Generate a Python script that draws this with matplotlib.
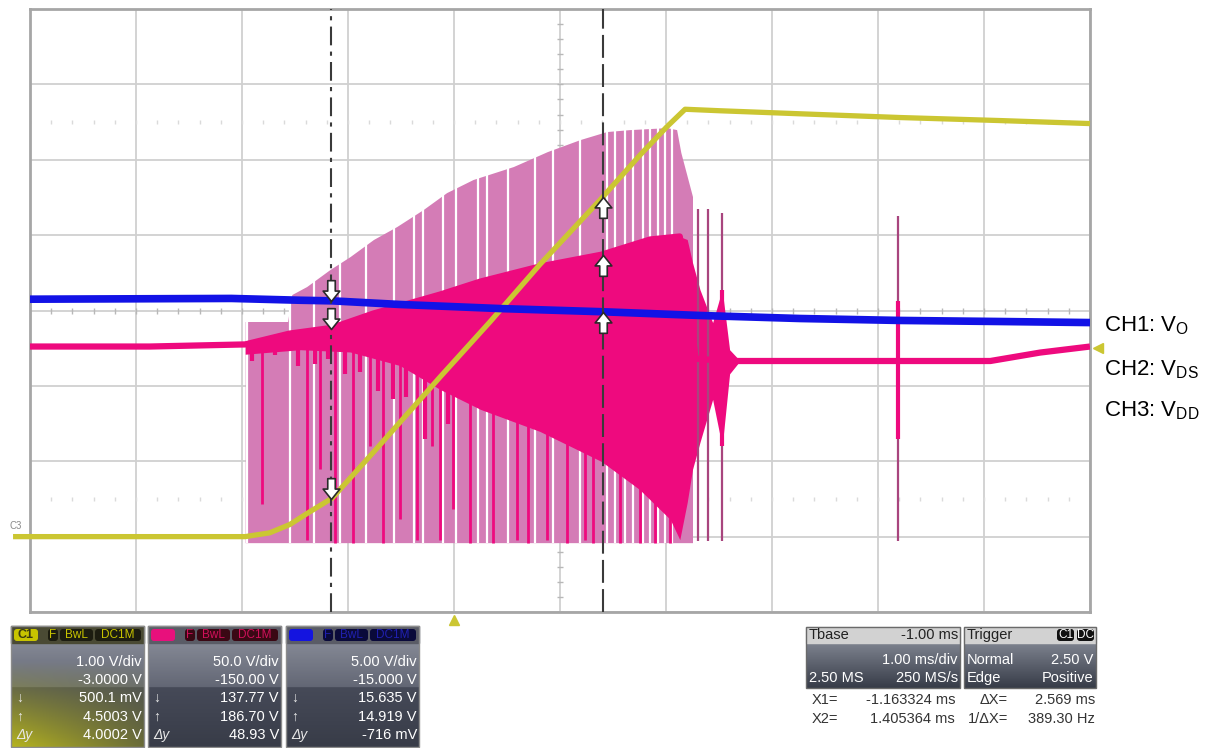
import numpy as np
import matplotlib.pyplot as plt
from matplotlib.path import Path
from matplotlib.patches import Rectangle, FancyBboxPatch

plt.rcParams['font.family'] = ['Liberation Sans', 'DejaVu Sans']
plt.rcParams['mathtext.default'] = 'regular'

W, H = 1223, 748

# scope setup
ch_vdiv = [1.0, 50.0, 5.0]          # C1, C2, C3
ch_offset = [-3.0, -150.0, -15.0]
trig_level = 2.50                   # on C1
x1_ms = -1.163324
x2_ms = 1.405364

# C1 (yellow), ms / V
c1_t = [-4.16, -1.97, -1.74, -1.55, -1.36, -1.15, -0.76, -0.13, 0.34, 0.81,
        1.38, 1.76, 2.01, 2.18, 2.51, 3.26, 4.21, 5.15, 6.0]
c1_v = [0.0, 0.0, 0.05, 0.16, 0.33, 0.51, 1.12, 2.12, 2.85, 3.61,
        4.47, 5.07, 5.44, 5.67, 5.65, 5.61, 5.56, 5.52, 5.48]

# C3 (blue)
c3_t = [-4.0, -2.1, -1.45, -1.15, -0.51, 0.43, 1.39, 2.32, 3.26, 4.21, 5.15, 6.0]
c3_v = [15.75, 15.80, 15.68, 15.64, 15.40, 15.13, 14.92, 14.67, 14.47, 14.34, 14.27, 14.20]

# C2 (pink) mean trace
c2_t = [-4.0, -2.87, -1.97, -1.55, -1.15, -0.76, -0.13, 0.25, 0.81, 1.39,
        1.85, 2.13, 2.20, 2.28, 2.60, 5.06, 5.53, 6.0]
c2_v = [126.1, 126.1, 127.5, 134.7, 138.5, 148.0, 160.6, 169.2, 179.2, 187.0,
        197.1, 199.1, 160.0, 118.0, 116.5, 116.5, 122.1, 126.1]

# C2 switching envelope (persistence)
env_t = [-1.97, -1.57, -1.53, -1.39, -1.17, -0.98, -0.76, -0.54, -0.29, -0.07,
         0.18, 0.56, 0.88, 1.19, 1.44, 1.66, 2.01, 2.10, 2.14, 2.20, 2.25]
env_hi = [142.7, 142.7, 160.6, 165.9, 177.2, 185.8, 197.1, 205.7, 217.0, 228.2,
          236.9, 245.5, 255.4, 263.4, 268.7, 270.0, 271.3, 270.0, 254.8, 238.9, 225.6]
env_floor = -4.0

# dense C2 band
dark_t = [-1.97, -1.45, -0.98, -0.51, -0.13, 0.25, 0.81, 1.39, 1.75, 2.04,
          2.13, 2.20, 2.25, 2.32, 2.44, 2.53, 2.60, 2.68]
dark_hi = [128.5, 136.0, 142.5, 152.0, 160.6, 169.2, 179.2, 189.0, 196.0, 199.0,
           199.0, 197.1, 181.8, 163.9, 142.0, 163.9, 124.0, 118.0]
dark_lo = [121.0, 124.0, 122.5, 113.5, 97.6, 84.4, 69.8, 49.9, 31.3, 11.4,
           -2.0, 22.7, 44.6, 62.5, 91.0, 59.8, 108.0, 115.0]

# gaps between switching bursts
gap_t = [-1.95, -1.55, -1.32, -1.08, -0.83, -0.57, -0.38, -0.29, -0.10, 0.02,
         0.23, 0.31, 0.51, 0.76, 0.93, 1.19, 1.44, 1.52, 1.61, 1.69, 1.78,
         1.85, 1.92, 1.99, 2.06]

# deep switching spikes
spk_t = [-1.81, -1.39, -1.26, -1.12, -0.95, -0.79, -0.67, -0.51, -0.35, -0.21,
         -0.13, -0.01, 0.15, 0.37, 0.59, 0.70, 0.88, 1.07, 1.24, 1.31, 1.57,
         1.75, 1.90, 2.04]
spk_lo = [21.4, -2.0, 44.6, -4.0, -4.0, 60.0, -4.0, 11.4, -2.0, 60.0,
          -2.0, 18.0, -4.0, -4.0, -2.0, -4.0, -2.0, -4.0, -2.0, -4.0, -4.0,
          -4.0, -4.0, -4.0]

# short teeth on the C2 band
tooth_t = [-1.91, -1.69, -1.47, -1.31, -1.19, -1.03, -0.89, -0.72, -0.58, -0.45, -0.27, -0.06]
tooth_lo = [116.2, 120.8, 113.5, 114.2, 117.5, 108.2, 109.5, 96.3, 91.0, 92.3, 64.5, 74.4]

# isolated spikes after the burst
post_t = [2.30, 2.40, 2.53, 4.19]
post_hi = [217.0, 217.0, 215.0, 213.0]
post_lo = [-3.0, -3.0, -3.0, -3.0]
ring_t = [2.53, 4.19]
ring_hi = [163.9, 156.0]
ring_lo = [59.8, 64.5]

# cursor readouts (X1 down, X2 up) per channel
cur_x1 = [0.5001, 137.77, 15.635]
cur_x2 = [4.5003, 186.70, 14.919]

# readout panel texts
ch_names = ['C1', 'C2', 'C3']
vdiv_txt = ['1.00 V/div', '50.0 V/div', '5.00 V/div']
ofs_txt = ['-3.0000 V', '-150.00 V', '-15.000 V']
x1_txt = ['500.1 mV', '137.77 V', '15.635 V']
x2_txt = ['4.5003 V', '186.70 V', '14.919 V']
dy_txt = ['4.0002 V', '48.93 V', '-716 mV']

YEL = '#cbc632'
PINK = '#ee0a7e'
LPINK = '#d47cb6'
BLUE = '#1212e6'


def dv(v, ch):
    return (np.asarray(v, dtype=float) + ch_offset[ch]) / ch_vdiv[ch]


fig = plt.figure(figsize=(W / 100, H / 100), dpi=100)
fig.patch.set_facecolor('white')

# pixel-space overlay for the readout panels
pan = fig.add_axes([0, 0, 1, 1])
pan.set_axis_off()

ax = fig.add_axes([30 / W, 1 - 612 / H, 1060 / W, 603 / H])
ax.set_xlim(-4, 6)
ax.set_ylim(-4, 4)
ax.set_xticks(np.arange(-4, 7))
ax.set_yticks(np.arange(-4, 5))
ax.tick_params(length=0, labelbottom=False, labelleft=False)
ax.grid(True, color='#d0d0d0', lw=1.3)
ax.set_axisbelow(True)
for s in ax.spines.values():
    s.set_color('#a6a6a6')
    s.set_linewidth(2)

# graticule ticks
mt = np.arange(-4, 6.01, 0.2)
ax.plot(mt, np.zeros_like(mt), ls='none', marker='|', ms=5, color='#b8b8b8', mew=1, zorder=1)
for yrow in (2.5, -2.5):
    ax.plot(mt, np.full_like(mt, yrow), ls='none', marker='|', ms=3, color='#dadada', mew=1, zorder=1)
mv = np.arange(-4, 4.01, 0.2)
ax.plot(np.ones_like(mv), mv, ls='none', marker='_', ms=5, color='#b8b8b8', mew=1, zorder=1)

# C2 persistence
lo = dv(env_floor, 1)
ax.fill_between(env_t, lo, dv(env_hi, 1), color=LPINK, lw=0, zorder=2)
ax.vlines(gap_t, lo, dv(np.interp(gap_t, env_t, env_hi), 1) + 0.05, color='white', lw=1.6, zorder=3)
ax.fill_between(dark_t, dv(dark_lo, 1), dv(dark_hi, 1), color=PINK, lw=0, zorder=4)
ax.vlines(spk_t, dv(spk_lo, 1), dv(np.interp(spk_t, c2_t, c2_v), 1), color=PINK, lw=2, zorder=4)
ax.vlines(tooth_t, dv(tooth_lo, 1), dv(np.interp(tooth_t, c2_t, c2_v), 1), color=PINK, lw=3, zorder=4)
ax.vlines(post_t, dv(post_lo, 1), dv(post_hi, 1), color='#a8457e', lw=1.6, zorder=4)
ax.vlines(ring_t, dv(ring_lo, 1), dv(ring_hi, 1), color=PINK, lw=3, zorder=4)
ax.plot(c2_t, dv(c2_v, 1), color=PINK, lw=4.5, zorder=5, solid_capstyle='butt')

ax.plot(c1_t, dv(c1_v, 0), color=YEL, lw=3.8, zorder=6, clip_on=False, solid_capstyle='butt')
ax.plot(c3_t, dv(c3_v, 2), color=BLUE, lw=5.5, zorder=7, solid_capstyle='butt')

# cursors
ax.axvline(x1_ms, color='#3a3a3a', lw=1.5, ls=(0, (9, 3, 2, 3)), zorder=8)
ax.axvline(x2_ms, color='#3a3a3a', lw=1.5, ls=(0, (11, 3)), zorder=8)
arr = [(0, 0), (0.4, 0.5), (0.18, 0.5), (0.18, 1.0), (-0.18, 1.0), (-0.18, 0.5), (-0.4, 0.5), (0, 0)]
arrow_dn = Path(arr, closed=True)
arrow_up = Path([(x, -y) for x, y in arr], closed=True)
ax.plot([x1_ms] * 3, [dv(cur_x1[i], i) for i in range(3)], ls='none', marker=arrow_dn,
        ms=30, mfc='white', mec='#2a2a2a', mew=1.2, zorder=9)
ax.plot([x2_ms] * 3, [dv(cur_x2[i], i) for i in range(3)], ls='none', marker=arrow_up,
        ms=30, mfc='white', mec='#2a2a2a', mew=1.2, zorder=9)

# trigger markers
ax.plot([0], [-4.1], marker='^', ms=7, color=YEL, clip_on=False, zorder=9)
ax.plot([6.08], [dv(trig_level, 0)], marker='<', ms=7, color=YEL, clip_on=False, zorder=9)

# ---- pixel overlay ----
pan.set_xlim(0, W)
pan.set_ylim(H, 0)
pan.text(9, 526, 'C3', fontsize=7, color='#8a8a8a', va='center')
pan.text(1087, 22, 'LeCroy', fontsize=15, fontweight='bold', color='#505050', ha='right', va='center')
pan.plot([1014, 1064], [33, 33], color='#555555', lw=2)

pan.text(1104, 326, 'CH1: V$_{O}$', fontsize=16, va='center')
pan.text(1104, 370, 'CH2: V$_{DS}$', fontsize=16, va='center')
pan.text(1104, 411, 'CH3: V$_{DD}$', fontsize=16, va='center')


def body_img(yellow=False, ny=80, nx=60):
    f = np.linspace(0, 1, ny)[:, None, None]
    top_a, bot_a = np.array([132, 136, 148]), np.array([98, 102, 116])
    top_b, bot_b = np.array([70, 74, 88]), np.array([56, 60, 72])
    split = 0.43
    fa = np.clip(f / split, 0, 1)
    fb = np.clip((f - split) / (1 - split), 0, 1)
    img = np.where(f < split, top_a + (bot_a - top_a) * fa, top_b + (bot_b - top_b) * fb)
    img = np.repeat(img, nx, axis=1)
    if yellow:
        xx = np.linspace(0, 1, nx)[None, :, None]
        w = np.clip(f * 1.15 - 0.2, 0, 1) * (1 - 0.6 * xx)
        img = img * (1 - w) + np.array([188, 186, 30]) * w
    return img / 255.0


box_x = [11, 148, 286]
box_w = 133
badge_bg = ['#c8c400', '#e8107c', '#1414e0']
tag_bg = ['#1c1c10', '#3a0814', '#0a0a3a']
tag_fg = ['#c8c400', '#d0105a', '#2020b0']
hdr_bg = ['#4a4a34', '#5a5c66', '#5a5c66']
row_y = [662, 680, 698, 717, 735]
for i in range(3):
    x0 = box_x[i]
    pan.imshow(body_img(i == 0), extent=[x0, x0 + box_w, 747, 643], aspect='auto', zorder=1)
    pan.add_patch(Rectangle((x0, 626), box_w, 17, color=hdr_bg[i], zorder=1))
    pan.add_patch(Rectangle((x0, 626), box_w, 121, fill=False, ec='#8c8c8c', lw=1, zorder=3))
    pan.add_patch(FancyBboxPatch((x0 + 3, 629), 24, 12, boxstyle='round,pad=0,rounding_size=3',
                                 fc=badge_bg[i], ec='none', zorder=2))
    pan.text(x0 + 15, 635.5, ch_names[i], fontsize=9, fontweight='bold', ha='center', va='center',
             color='#3a3a10' if i == 0 else badge_bg[i], zorder=3)
    for bx, bw, s in [(37, 10, 'F'), (49, 33, 'BwL'), (84, 46, 'DC1M')]:
        pan.add_patch(FancyBboxPatch((x0 + bx, 629), bw, 12, boxstyle='round,pad=0,rounding_size=3',
                                     fc=tag_bg[i], ec='none', zorder=2))
        pan.text(x0 + bx + bw / 2, 635.5, s, fontsize=8.5, ha='center', va='center',
                 color=tag_fg[i], zorder=3)
    vals = [vdiv_txt[i], ofs_txt[i], x1_txt[i], x2_txt[i], dy_txt[i]]
    for y, s in zip(row_y, vals):
        pan.text(x0 + box_w - 2, y, s, fontsize=10.5, color='white', ha='right', va='center', zorder=3)
    for y, s in zip(row_y[2:], ['\u2193', '\u2191', '\u0394y']):
        pan.text(x0 + 5, y, s, fontsize=10, color='#e8e8e8', ha='left', va='center',
                 style='italic' if s.startswith('\u0394') else 'normal', zorder=3)

# timebase / trigger boxes
grad = np.linspace(0, 1, 60)[:, None, None]
tb_img = (np.array([125, 130, 142]) + (np.array([55, 60, 72]) - np.array([125, 130, 142])) * grad) / 255.0
tb_img = np.repeat(tb_img, 40, axis=1)
for bx0, bw in [(806, 154), (964, 132)]:
    pan.imshow(tb_img, extent=[bx0, bx0 + bw, 688, 643], aspect='auto', zorder=1)
    pan.add_patch(Rectangle((bx0, 627), bw, 16, color='#d2d2d2', zorder=1))
    pan.add_patch(Rectangle((bx0, 627), bw, 61, fill=False, ec='#6a6a6a', lw=1, zorder=3))

pan.text(809, 635, 'Tbase', fontsize=10.5, color='#222222', va='center')
pan.text(958, 635, '-1.00 ms', fontsize=10.5, color='#222222', va='center', ha='right')
pan.text(958, 660, '1.00 ms/div', fontsize=10.5, color='white', va='center', ha='right')
pan.text(809, 678, '2.50 MS', fontsize=10.5, color='white', va='center')
pan.text(958, 678, '250 MS/s', fontsize=10.5, color='white', va='center', ha='right')

pan.text(967, 635, 'Trigger', fontsize=10.5, color='#222222', va='center')
for bx, s in [(1057, 'C1'), (1077, 'DC')]:
    pan.add_patch(FancyBboxPatch((bx, 629), 17, 12, boxstyle='round,pad=0,rounding_size=3',
                                 fc='#111111', ec='none', zorder=2))
    pan.text(bx + 8.5, 635.5, s, fontsize=8.5, color='white', ha='center', va='center', zorder=3)
pan.text(967, 660, 'Normal', fontsize=10.5, color='white', va='center')
pan.text(1093, 660, '2.50 V', fontsize=10.5, color='white', va='center', ha='right')
pan.text(967, 678, 'Edge', fontsize=10.5, color='white', va='center')
pan.text(1093, 678, 'Positive', fontsize=10.5, color='white', va='center', ha='right')

pan.text(812, 700, 'X1=', fontsize=10.5, color='#333333', va='center')
pan.text(955, 700, '-1.163324 ms', fontsize=10.5, color='#333333', va='center', ha='right')
pan.text(1008, 700, '\u0394X=', fontsize=10.5, color='#333333', va='center', ha='right')
pan.text(1095, 700, '2.569 ms', fontsize=10.5, color='#333333', va='center', ha='right')
pan.text(812, 719, 'X2=', fontsize=10.5, color='#333333', va='center')
pan.text(955, 719, '1.405364 ms', fontsize=10.5, color='#333333', va='center', ha='right')
pan.text(1008, 719, '1/\u0394X=', fontsize=10.5, color='#333333', va='center', ha='right')
pan.text(1095, 719, '389.30 Hz', fontsize=10.5, color='#333333', va='center', ha='right')

fig.savefig('out.png', dpi=100)
